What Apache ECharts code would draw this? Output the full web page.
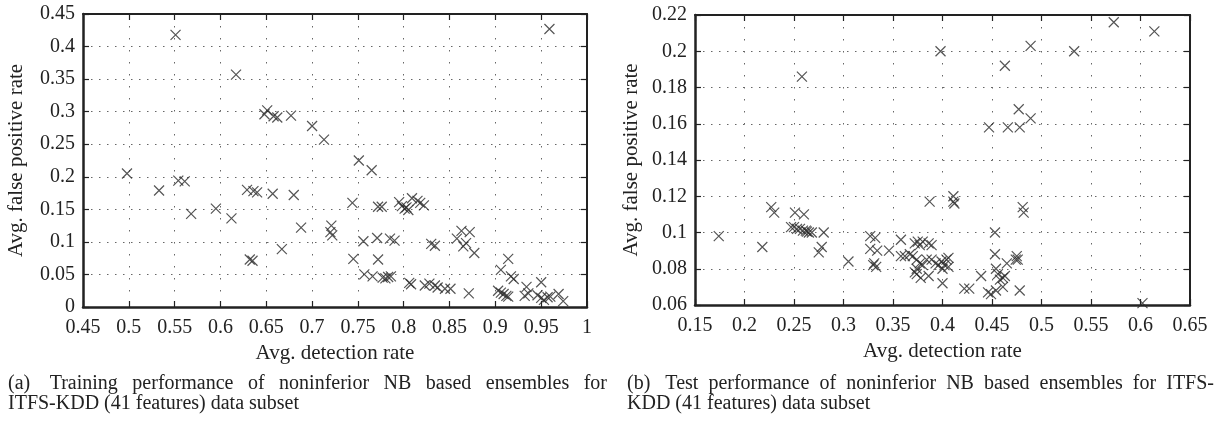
<!DOCTYPE html>
<html><head><meta charset="utf-8">
<script src="https://cdn.jsdelivr.net/npm/echarts@6/dist/echarts.min.js"></script>
<style>html,body{margin:0;padding:0;background:#fff}#c{width:1222px;height:430px}</style>
</head><body><div id="c"></div>
<script>
// ---- Data: (a) training performance ----
const trainX = [0.498,0.533,0.551,0.554,0.561,0.568,0.595,0.612,0.617,0.629,0.636,0.640,0.632,0.635,
  0.648,0.651,0.658,0.662,0.657,0.667,0.677,0.680,0.688,0.700,0.713,0.721,0.720,0.722,
  0.744,0.745,0.751,0.756,0.757,0.765,0.766,0.771,0.772,0.772,0.776,0.777,0.780,0.783,0.786,
  0.785,0.790,0.795,0.798,0.801,0.803,0.805,0.806,0.808,0.809,0.815,0.818,0.822,
  0.823,0.828,0.830,0.834,0.834,0.837,0.845,0.851,0.858,0.863,0.865,0.868,0.872,0.877,0.871,
  0.903,0.906,0.909,0.912,0.914,0.906,0.914,0.917,0.920,0.932,0.934,0.936,0.950,
  0.946,0.950,0.953,0.957,0.960,0.959,0.969,0.974];
const trainY = [0.205,0.179,0.418,0.194,0.193,0.143,0.151,0.136,0.357,0.180,0.178,0.176,0.073,0.071,
  0.296,0.302,0.293,0.291,0.174,0.089,0.294,0.172,0.122,0.278,0.257,0.125,0.115,0.110,
  0.160,0.074,0.225,0.101,0.050,0.210,0.047,0.106,0.073,0.154,0.154,0.045,0.044,0.046,0.047,
  0.105,0.102,0.161,0.155,0.151,0.153,0.149,0.037,0.035,0.167,0.163,0.160,0.156,
  0.033,0.036,0.097,0.094,0.033,0.030,0.028,0.028,0.105,0.117,0.093,0.098,0.115,0.083,0.021,
  0.025,0.022,0.020,0.017,0.016,0.057,0.074,0.047,0.043,0.017,0.031,0.021,0.038,
  0.018,0.014,0.011,0.015,0.016,0.427,0.020,0.009];

// ---- Data: (b) test performance ----
const testX = [0.174,0.218,0.227,0.230,0.247,0.250,0.253,0.256,0.259,0.262,0.265,0.268,0.263,
  0.251,0.260,0.258,0.280,0.278,0.275,0.305,0.327,0.332,0.327,0.334,0.331,0.333,0.330,
  0.346,0.358,0.358,0.362,0.372,0.375,0.377,0.380,0.386,0.389,0.367,0.370,0.374,0.377,0.380,
  0.374,0.374,0.378,0.386,0.372,0.384,0.389,0.393,0.396,0.399,0.404,0.402,0.400,0.406,0.406,
  0.400,0.387,0.398,0.411,0.411,0.412,0.422,0.427,0.439,0.453,0.453,0.454,
  0.465,0.463,0.461,0.474,0.476,0.475,0.446,0.449,0.454,0.461,0.458,0.456,0.478,
  0.447,0.466,0.478,0.477,0.489,0.463,0.489,0.533,0.573,0.614,0.481,0.482,0.602];
const testY = [0.098,0.092,0.114,0.111,0.103,0.103,0.102,0.102,0.101,0.101,0.100,0.100,0.1005,
  0.111,0.110,0.186,0.100,0.092,0.089,0.084,0.098,0.097,0.091,0.090,0.083,0.081,0.082,
  0.090,0.096,0.087,0.087,0.094,0.095,0.093,0.095,0.094,0.093,0.088,0.087,0.085,0.083,0.082,
  0.080,0.077,0.075,0.076,0.078,0.085,0.085,0.083,0.082,0.084,0.085,0.082,0.080,0.081,0.086,
  0.072,0.117,0.200,0.120,0.117,0.116,0.069,0.069,0.076,0.100,0.088,0.080,
  0.083,0.076,0.075,0.085,0.085,0.087,0.067,0.066,0.068,0.070,0.074,0.077,0.068,
  0.158,0.158,0.158,0.168,0.163,0.192,0.203,0.200,0.216,0.211,0.114,0.111,0.061];

// ---- Axis ranges ----
const trainXRange = [0.45, 1, 0.05];
const trainYRange = [0, 0.45, 0.05];
const testXRange = [0.15, 0.65, 0.05];
const testYRange = [0.06, 0.22, 0.02];

const axisTitleX = 'Avg. detection rate';
const axisTitleY = 'Avg. false positive rate';
const captionA = [['(a) ', 'Training','performance','of','noninferior','NB','based','ensembles','for'], 'ITFS-KDD (41 features) data subset'];
const captionB = [['(b) ', 'Test','performance','of','noninferior','NB','based','ensembles','for','ITFS-'], 'KDD (41 features) data subset'];

const FONT = '"Liberation Serif", "DejaVu Serif", serif';
const INK = '#222';
const CROSS = 'path://M0 0L10 10M10 0L0 10';

const grids = [
  {left: 83, top: 14, width: 504, height: 293},
  {left: 695, top: 15, width: 495, height: 290}
];

function mainX(gi, r) {
  return {gridIndex: gi, type: 'value', min: r[0], max: r[1], interval: r[2], position: 'bottom',
    name: axisTitleX, nameLocation: 'middle', nameGap: 36,
    nameTextStyle: {fontFamily: FONT, fontSize: 21, color: INK},
    axisLine: {show: true, onZero: false, lineStyle: {color: INK, width: 2.5}},
    axisTick: {show: true, inside: true, length: 6, lineStyle: {color: INK, width: 1.2}},
    axisLabel: {fontFamily: FONT, fontSize: 20, color: INK, margin: 11},
    splitLine: {show: true, lineStyle: {color: '#666', width: 1, type: [1.5, 10.5]}}};
}
function mainY(gi, r, gap) {
  return {gridIndex: gi, type: 'value', min: r[0], max: r[1], interval: r[2], position: 'left',
    name: axisTitleY, nameLocation: 'middle', nameGap: gap,
    nameTextStyle: {fontFamily: FONT, fontSize: 21, color: INK},
    axisLine: {show: true, onZero: false, lineStyle: {color: INK, width: 2.5}},
    axisTick: {show: true, inside: true, length: 6, lineStyle: {color: INK, width: 1.2}},
    axisLabel: {fontFamily: FONT, fontSize: 20, color: INK, margin: 8},
    splitLine: {show: true, lineStyle: {color: '#666', width: 1, type: [1.5, 6.5]}}};
}
function frameX(gi, r) {
  return {gridIndex: gi, type: 'value', min: r[0], max: r[1], interval: r[2], position: 'top',
    axisLine: {show: true, onZero: false, lineStyle: {color: INK, width: 2}},
    axisTick: {show: true, inside: true, length: 6, lineStyle: {color: INK, width: 1.2}},
    axisLabel: {show: false}, splitLine: {show: false}};
}
function frameY(gi, r) {
  return {gridIndex: gi, type: 'value', min: r[0], max: r[1], interval: r[2], position: 'right',
    axisLine: {show: true, onZero: false, lineStyle: {color: INK, width: 2}},
    axisTick: {show: true, inside: true, length: 6, lineStyle: {color: INK, width: 1.2}},
    axisLabel: {show: false}, splitLine: {show: false}};
}

function scatter(xi, yi, xs, ys) {
  return {type: 'scatter', xAxisIndex: xi, yAxisIndex: yi, clip: false,
    data: xs.map((x, i) => [x, ys[i]]), symbol: CROSS, symbolSize: 10,
    itemStyle: {color: 'none', borderColor: '#2a2a2a', borderWidth: 1.2},
    emphasis: {disabled: true}, animation: false, silent: true};
}

// justified captions
const CAP_FONT_SIZE = 20;
const ctx = document.createElement('canvas').getContext('2d');
ctx.font = CAP_FONT_SIZE + 'px ' + FONT;
function caption(lines, x0, width, y0, lh) {
  const els = [];
  const words = lines[0];
  const ws = words.map(w => ctx.measureText(w).width);
  const total = ws.reduce((a, b) => a + b, 0);
  const gap = (width - total) / (words.length - 1);
  let x = x0;
  words.forEach((w, i) => {
    els.push({type: 'text', x: x, y: y0, silent: true,
      style: {text: w, font: CAP_FONT_SIZE + 'px ' + FONT, fill: INK, verticalAlign: 'top'}});
    x += ws[i] + gap;
  });
  els.push({type: 'text', x: x0, y: y0 + lh, silent: true,
    style: {text: lines[1], font: CAP_FONT_SIZE + 'px ' + FONT, fill: INK, verticalAlign: 'top'}});
  return els;
}

const chart = echarts.init(document.getElementById('c'), null, {renderer: 'canvas'});
chart.setOption({
  animation: false,
  backgroundColor: '#fff',
  grid: grids,
  xAxis: [mainX(0, trainXRange), frameX(0, trainXRange), mainX(1, testXRange), frameX(1, testXRange)],
  yAxis: [mainY(0, trainYRange, 56), frameY(0, trainYRange), mainY(1, testYRange, 53), frameY(1, testYRange)],
  series: [scatter(0, 0, trainX, trainY), scatter(2, 2, testX, testY)],
  graphic: caption(captionA, 8, 599, 374, 20).concat(caption(captionB, 627, 587, 374, 20))
});
</script></body></html>
